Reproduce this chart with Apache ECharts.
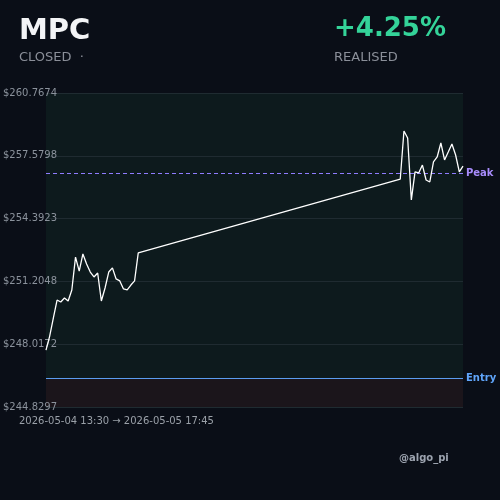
<!DOCTYPE html>
<html><head><meta charset="utf-8">
<script src="https://cdn.jsdelivr.net/npm/echarts@6/dist/echarts.min.js"></script>
<style>html,body{margin:0;padding:0;background:#0a0e17;}#c{width:500px;height:500px;}</style>
</head><body><div id="c"></div>
<script>
// ---- data ----
const ticker = 'MPC';
const status = 'CLOSED  ·';
const pnlText = '+4.25%';
const pnlLabel = 'REALISED';
const rangeText = '2026-05-04 13:30 → 2026-05-05 17:45';
const handle = '@algo_pi';

const day1Start = '2026-05-04T13:30:00Z';
const day1Values = [247.72, 248.43, 249.35, 250.26, 250.16, 250.36, 250.21, 250.77, 252.44, 251.73,
  252.60, 252.09, 251.68, 251.43, 251.63, 250.21, 250.87, 251.68, 251.89, 251.33,
  251.23, 250.82, 250.77, 251.02, 251.23, 252.65];
const day2Start = '2026-05-05T13:30:00Z';
const day2Values = [256.40, 258.84, 258.48, 255.34, 256.76, 256.71, 257.11, 256.35, 256.25, 257.27,
  257.52, 258.23, 257.37, 257.77, 258.18, 257.62, 256.76, 257.06];
const stepMinutes = 15;
const xMin = '2026-05-04T13:30:00Z';
const xMax = '2026-05-05T17:45:00Z';

const yTickLabels = ['$244.8297', '$248.0172', '$251.2048', '$254.3923', '$257.5798', '$260.7674'];
const yMin = 244.8297;
const yMax = 260.7674;
const entryPrice = 246.29;
const peakPrice = 256.69;

// ---- build ----
function session(start, values) {
  const t0 = new Date(start).getTime();
  return values.map((v, i) => [t0 + i * stepMinutes * 60000, v]);
}
const lineData = session(day1Start, day1Values).concat(session(day2Start, day2Values));
const yInterval = (yMax - yMin) / (yTickLabels.length - 1);
const FONT = 'DejaVu Sans';

const chart = echarts.init(document.getElementById('c'), null, {renderer: 'canvas'});
chart.setOption({
  backgroundColor: '#0a0e17',
  animation: false,
  grid: {left: 46, right: 37, top: 93, bottom: 93},
  xAxis: {
    type: 'time', min: new Date(xMin).getTime(), max: new Date(xMax).getTime(),
    axisLine: {show: false}, axisTick: {show: false}, axisLabel: {show: false}, splitLine: {show: false}
  },
  yAxis: {
    type: 'value', min: yMin, max: yMax, interval: yInterval, z: 3,
    axisLine: {show: false}, axisTick: {show: false},
    splitLine: {lineStyle: {color: '#1f2b31', width: 1}},
    axisLabel: {
      align: 'left', margin: 43, color: '#8b929c', fontSize: 10, fontFamily: FONT,
      formatter: function (v) {
        const k = Math.round((v - yMin) / yInterval);
        return yTickLabels[k] || '';
      }
    }
  },
  graphic: [
    {type: 'text', left: 19, top: 17, style: {text: ticker, fill: '#f3f4f6', font: 'bold 29px "DejaVu Sans"'}},
    {type: 'text', left: 19, top: 51, style: {text: status, fill: '#8b8f99', font: '13px "DejaVu Sans"'}},
    {type: 'text', left: 334, top: 16, style: {text: pnlText, fill: '#34d399', font: 'bold 26px "DejaVu Sans"'}},
    {type: 'text', left: 334, top: 51, style: {text: pnlLabel, fill: '#8b8f99', font: '13px "DejaVu Sans"'}},
    {type: 'text', left: 19, top: 416, style: {text: rangeText, fill: '#9aa0a8', font: '10px "DejaVu Sans"'}},
    {type: 'text', left: 399, top: 453, style: {text: handle, fill: '#9ca3af', font: 'bold 10px "DejaVu Sans"'}}
  ],
  series: [
    {
      type: 'line', data: [], z: 0, silent: true,
      markArea: {
        silent: true, z: 0,
        data: [
          [{yAxis: entryPrice, itemStyle: {color: '#0d1a1d'}}, {yAxis: yMax}],
          [{yAxis: yMin, itemStyle: {color: '#1b151b'}}, {yAxis: entryPrice}]
        ]
      }
    },
    {
      type: 'line', data: lineData, showSymbol: false, symbol: 'none',
      lineStyle: {color: '#ffffff', width: 1.3}, z: 5,
      markLine: {
        silent: true, symbol: 'none',
        data: [
          {yAxis: peakPrice, lineStyle: {color: '#8f7cff', type: [4, 3], width: 1.2},
            label: {show: true, position: 'end', formatter: 'Peak', color: '#a78bfa', fontWeight: 'bold', fontSize: 10, fontFamily: FONT, distance: 3}},
          {yAxis: entryPrice, lineStyle: {color: '#5b9cf0', type: 'solid', width: 1.2},
            label: {show: true, position: 'end', formatter: 'Entry', color: '#60a5fa', fontWeight: 'bold', fontSize: 10, fontFamily: FONT, distance: 3}}
        ]
      }
    }
  ]
});
</script></body></html>
